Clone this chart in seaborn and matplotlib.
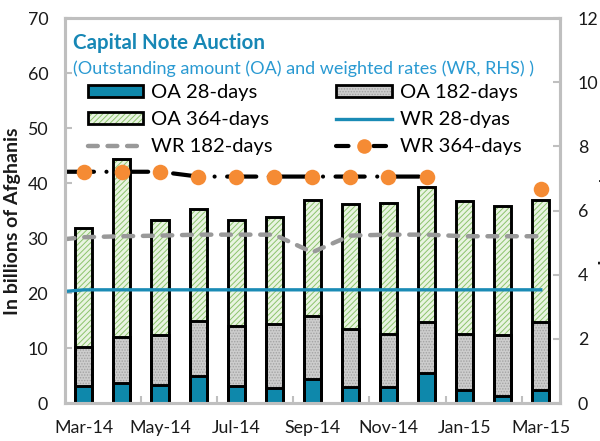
import numpy as np
import matplotlib.pyplot as plt
import seaborn as sns
from matplotlib.patches import Patch
from matplotlib.lines import Line2D

plt.rcParams['font.family'] = ['Lato', 'DejaVu Sans']
plt.rcParams['hatch.linewidth'] = 0.7

months = ['Mar-14', 'Apr-14', 'May-14', 'Jun-14', 'Jul-14', 'Aug-14', 'Sep-14',
          'Oct-14', 'Nov-14', 'Dec-14', 'Jan-15', 'Feb-15', 'Mar-15']

# outstanding amounts, billions of Afghanis
oa_28 = [3.1, 3.7, 3.3, 4.9, 3.1, 2.7, 4.3, 3.0, 3.0, 5.5, 2.4, 1.2, 2.4]
oa_182 = [7.1, 8.3, 9.0, 10.1, 11.0, 11.7, 11.5, 10.5, 9.6, 9.2, 10.2, 11.1, 12.3]
oa_364 = [21.7, 32.3, 21.0, 20.2, 19.2, 19.4, 21.2, 22.7, 23.8, 24.5, 24.1, 23.6, 22.3]

# weighted rates, percent (first value sits on the left edge of the plot)
wr_28 = [3.48, 3.53, 3.53, 3.53, 3.53, 3.53, 3.53, 3.53, 3.53, 3.53, 3.53, 3.53, 3.53, 3.53]
wr_182 = [5.11, 5.17, 5.2, 5.22, 5.25, 5.25, 5.25, 4.7, 5.22, 5.25, 5.25, 5.2, 5.2, 5.2]
wr_364 = [7.21, 7.21, 7.21, 7.21, 7.06, 7.06, 7.06, 7.06, 7.06, 7.06, 7.06, np.nan, np.nan, 6.68]

pos = np.arange(len(months))
rate_x = np.r_[-0.5, pos]

c28 = '#0E88AB'
grid_gray = '#BFBFBF'

fig = plt.figure(figsize=(6, 4.41), dpi=100)
ax = fig.add_axes([0.108, 0.086, 0.825, 0.873])

cum28 = np.array(oa_28)
cum182 = cum28 + np.array(oa_182)
cum364 = cum182 + np.array(oa_364)

# stacked bars drawn tallest first, then black outlines
layers = [(cum364, '#E9F4E1', '//////', '#8CC36C'),
          (cum182, '#CDCDCD', '......', '#A3A3A3'),
          (cum28, c28, None, c28)]
for tops, face, hatch, hc in layers:
    sns.barplot(x=months, y=tops, color=face, saturation=1, width=0.45,
                edgecolor=hc, linewidth=0, hatch=hatch, errorbar=None, ax=ax)
for tops in [cum364, cum182, cum28]:
    sns.barplot(x=months, y=tops, color='black', fill=False, linewidth=2.1,
                width=0.45, errorbar=None, ax=ax)

ax2 = ax.twinx()
sns.lineplot(x=rate_x, y=wr_28, color='#1A8BB5', lw=2.4, ax=ax2)
sns.lineplot(x=rate_x, y=wr_182, color='#999999', lw=3.2,
             linestyle=(0, (2.2, 2.2)), dash_capstyle='round', ax=ax2)
ax2.plot(rate_x, wr_364, color='black', lw=3.0,
         linestyle=(0, (7, 3, 0.01, 3)), dash_capstyle='round')
sns.scatterplot(x=pos, y=wr_364[1:], color='#F58B34', s=125, linewidth=0, ax=ax2, zorder=5)

ax.set_ylim(0, 70)
ax2.set_ylim(0, 12)
ax.set_xlim(-0.5, 12.5)
ax.set_yticks(range(0, 71, 10))
ax2.set_yticks(range(0, 13, 2))
ax.set_xticks(pos[::2])
ax.set_xticklabels(months[::2])
ax.set_xticks(np.arange(1.5, 12, 2), minor=True)
ax.set_xlabel('')
ax.set_ylabel('')
ax2.set_ylabel('')

ax.tick_params(axis='y', direction='in', length=5, width=1.5, color=grid_gray,
               pad=12, labelsize=12.8, labelcolor='#1a1a1a')
ax2.tick_params(axis='y', direction='in', length=5, width=1.5, color=grid_gray,
                pad=13, labelsize=12.8, labelcolor='#1a1a1a')
ax.tick_params(axis='x', which='major', length=0, pad=12, labelsize=12.8, labelcolor='#1a1a1a')
ax.tick_params(axis='x', which='minor', direction='in', length=5, width=1.5, color=grid_gray)

for a in [ax, ax2]:
    for s in a.spines.values():
        s.set_color(grid_gray)
        s.set_linewidth(2.2)

fig.text(13 / 600, 0.499, 'In billions of Afghanis', rotation=90, ha='center', va='center',
         fontsize=14, fontweight='bold', color='#1a1a1a')
fig.text(607 / 600, 0.5, 'In percent', rotation=90, ha='center', va='center',
         fontsize=14, fontweight='bold', color='#1a1a1a')

ax2.text(0.016, 0.919, 'Capital Note Auction', transform=ax2.transAxes,
         fontsize=14.8, fontweight='bold', color='#1787B5', va='baseline')
ax2.text(0.016, 0.856, '(Outstanding amount (OA) and weighted rates (WR, RHS) )',
         transform=ax2.transAxes, fontsize=13, color='#2A9AD2', va='baseline')

h28 = Patch(facecolor=c28, edgecolor='black', lw=2)
h182 = (Patch(facecolor='#CDCDCD', edgecolor='#A3A3A3', lw=0, hatch='......'),
        Patch(facecolor='none', edgecolor='black', lw=2))
h364 = (Patch(facecolor='#E9F4E1', edgecolor='#8CC36C', lw=0, hatch='//////'),
        Patch(facecolor='none', edgecolor='black', lw=2))
hw28 = Line2D([], [], color='#1A8BB5', lw=2.4)
hw182 = Line2D([], [], color='#999999', lw=3.2, linestyle=(0, (2.2, 2.2)), dash_capstyle='round')
hw364 = Line2D([], [], color='black', lw=3.0, linestyle=(0, (3, 3, 0.01, 3)),
               dash_capstyle='round', marker='o', markersize=10.5,
               markerfacecolor='#F58B34', markeredgecolor='none')
ax2.legend([h28, h364, hw182, h182, hw28, hw364],
           ['OA 28-days', 'OA 364-days', 'WR 182-days', 'OA 182-days', 'WR 28-dyas', 'WR 364-days'],
           ncol=2, loc='upper left', bbox_to_anchor=(0.0465, 0.828), frameon=False,
           borderpad=0, borderaxespad=0, fontsize=14.5, handlelength=2.75,
           handleheight=0.55, handletextpad=0.4, columnspacing=3.15, labelspacing=0.5)

fig.savefig('out.png', dpi=100)
